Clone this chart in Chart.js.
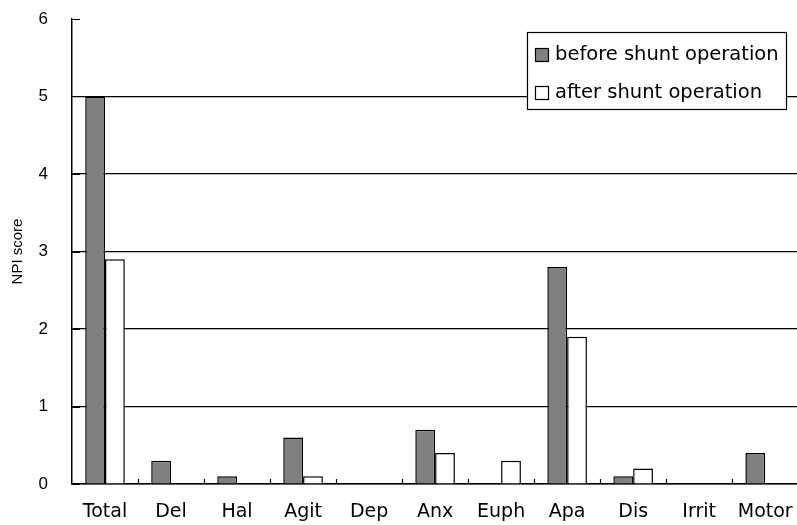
<!DOCTYPE html>
<html>
<head>
<meta charset="utf-8">
<script src="https://cdn.jsdelivr.net/npm/chart.js@4/dist/chart.umd.min.js"></script>
<style>
    html, body { margin: 0; padding: 0; background: #fff; overflow: hidden; }
    #wrap { width: 810px; height: 525px; position: relative; }
</style>
</head>
<body>
<div id="wrap"><canvas id="npi-chart"></canvas></div>
<script>
const categories = ['Total', 'Del', 'Hal', 'Agit', 'Dep', 'Anx', 'Euph', 'Apa', 'Dis', 'Irrit', 'Motor'];
const beforeValues = [5, 0.3, 0.1, 0.6, 0, 0.7, 0, 2.8, 0.1, 0, 0.4];
const afterValues = [2.9, 0, 0, 0.1, 0, 0.4, 0.3, 1.9, 0.2, 0, 0];
const seriesLabels = ['before shunt operation', 'after shunt operation'];
const yTicks = [0, 1, 2, 3, 4, 5, 6];

// маленькие засечки внутрь области графика
const innerTicks = {
    id: 'innerTicks',
    afterDraw(chart) {
        const ctx = chart.ctx;
        const x = chart.scales.x;
        const y = chart.scales.y;
        ctx.save();
        ctx.strokeStyle = '#000';
        ctx.lineWidth = 1.2;
        ctx.beginPath();
        for (let i = 0; i < categories.length; i++) {
            const half = (x.getPixelForValue(1) - x.getPixelForValue(0)) / 2;
            const px = Math.round(x.getPixelForValue(i) + half) + 0.5;
            ctx.moveTo(px, y.bottom);
            ctx.lineTo(px, y.bottom - 5);
        }
        yTicks.forEach(v => {
            const py = Math.round(y.getPixelForValue(v)) + 0.5;
            ctx.moveTo(x.left, py);
            ctx.lineTo(x.left + 8, py);
        });
        ctx.stroke();
        ctx.restore();
    }
};

// легенда в рамке, справа сверху
const boxLegend = {
    id: 'boxLegend',
    afterDraw(chart) {
        const ctx = chart.ctx;
        const left = 527, top = 32, width = 259, height = 77;
        ctx.save();
        ctx.fillStyle = '#fff';
        ctx.fillRect(left, top, width, height);
        ctx.strokeStyle = '#000';
        ctx.lineWidth = 1.2;
        ctx.strokeRect(left + 0.5, top + 0.5, width, height);
        ctx.font = '19.5px "DejaVu Sans"';
        ctx.textBaseline = 'middle';
        chart.data.datasets.forEach((ds, i) => {
            const cy = top + 22 + i * 38;
            ctx.fillStyle = ds.backgroundColor;
            ctx.fillRect(535, cy - 6, 13, 13);
            ctx.strokeStyle = '#000';
            ctx.strokeRect(535.5, cy - 5.5, 13, 13);
            ctx.fillStyle = '#000';
            ctx.fillText(ds.label, 555, cy + 1);
        });
        ctx.restore();
    }
};

new Chart(document.getElementById('npi-chart'), {
    type: 'bar',
    plugins: [innerTicks, boxLegend],
    data: {
        labels: categories,
        datasets: [
            {
                label: seriesLabels[0],
                data: beforeValues,
                backgroundColor: '#808080',
                borderColor: '#000',
                borderWidth: 1.5
            },
            {
                label: seriesLabels[1],
                data: afterValues,
                backgroundColor: '#ffffff',
                borderColor: '#000',
                borderWidth: 1.5
            }
        ]
    },
    options: {
        responsive: true,
        maintainAspectRatio: false,
        animation: false,
        layout: { padding: { top: 19, right: 8, left: 0, bottom: 0 } },
        datasets: {
            bar: { categoryPercentage: 0.6, barPercentage: 1.0 }
        },
        plugins: {
            legend: { display: false },
            tooltip: { enabled: false }
        },
        scales: {
            x: {
                grid: { display: true, drawOnChartArea: false, drawTicks: false },
                border: { color: '#000', width: 1.5 },
                ticks: {
                    color: '#000',
                    padding: 17,
                    font: { family: 'DejaVu Sans', size: 19 },
                    maxRotation: 0,
                    autoSkip: false
                },
                afterFit(scale) { scale.height = 41; }
            },
            y: {
                min: 0,
                max: 6,
                grid: {
                    color: ctx => (ctx.tick && ctx.tick.value === 6) ? 'rgba(0,0,0,0)' : '#000',
                    lineWidth: 1.2,
                    drawTicks: true,
                    tickLength: 20,
                    tickColor: 'rgba(0,0,0,0)'
                },
                border: { color: '#000', width: 1.5 },
                ticks: {
                    stepSize: 1,
                    color: '#000',
                    padding: 4,
                    font: { family: 'Liberation Sans', size: 17 }
                },
                title: {
                    display: true,
                    text: 'NPI score',
                    color: '#000',
                    padding: { top: 9, bottom: 0 },
                    font: { family: 'Liberation Sans', size: 15 }
                },
                afterFit(scale) { scale.width = 72; }
            }
        }
    }
});
</script>
</body>
</html>
